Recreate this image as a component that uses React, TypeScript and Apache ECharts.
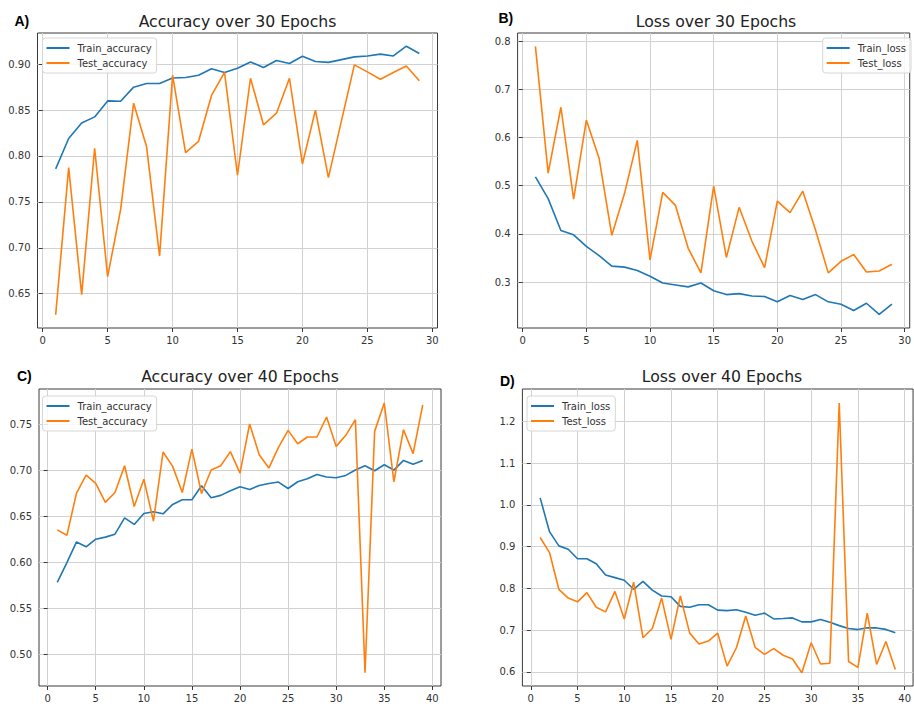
import React, { useEffect, useRef } from "react";
import * as echarts from "echarts";

const epochs30 = [1, 2, 3, 4, 5, 6, 7, 8, 9, 10, 11, 12, 13, 14, 15, 16, 17, 18, 19, 20, 21, 22, 23, 24, 25, 26, 27, 28, 29];
const epochs40 = [1, 2, 3, 4, 5, 6, 7, 8, 9, 10, 11, 12, 13, 14, 15, 16, 17, 18, 19, 20, 21, 22, 23, 24, 25, 26, 27, 28, 29, 30, 31, 32, 33, 34, 35, 36, 37, 38, 39];

const trainAcc30 = [0.786, 0.819, 0.836, 0.8426, 0.860, 0.8597, 0.875, 0.879, 0.879, 0.885, 0.8855, 0.888, 0.895, 0.891, 0.8956, 0.9025, 0.8964, 0.904, 0.9007, 0.9087, 0.903, 0.902, 0.905, 0.908, 0.909, 0.911, 0.909, 0.9196, 0.9116];
const testAcc30 = [0.627, 0.7874, 0.649, 0.8084, 0.6685, 0.7415, 0.8575, 0.810, 0.691, 0.888, 0.8037, 0.816, 0.866, 0.891, 0.779, 0.8847, 0.834, 0.8466, 0.8847, 0.7913, 0.850, 0.7765, 0.838, 0.8993, 0.8916, 0.8836, 0.891, 0.898, 0.882];

const trainLoss30 = [0.518, 0.473, 0.407, 0.398, 0.374, 0.355, 0.333, 0.331, 0.324, 0.312, 0.298, 0.294, 0.290, 0.298, 0.282, 0.274, 0.276, 0.271, 0.270, 0.259, 0.272, 0.264, 0.274, 0.259, 0.254, 0.241, 0.256, 0.233, 0.254];
const testLoss30 = [0.789, 0.526, 0.6626, 0.472, 0.636, 0.557, 0.397, 0.484, 0.594, 0.346, 0.486, 0.459, 0.370, 0.319, 0.499, 0.351, 0.455, 0.385, 0.330, 0.468, 0.444, 0.4885, 0.408, 0.319, 0.343, 0.357, 0.321, 0.323, 0.337];

const trainAcc40 = [0.578, 0.5996, 0.622, 0.6167, 0.625, 0.6272, 0.6304, 0.6482, 0.641, 0.6529, 0.6547, 0.6525, 0.6627, 0.6678, 0.6678, 0.683, 0.670, 0.6725, 0.6775, 0.682, 0.679, 0.6833, 0.6855, 0.687, 0.680, 0.6873, 0.6906, 0.6953, 0.6924, 0.6917, 0.6942, 0.700, 0.7047, 0.6993, 0.7058, 0.700, 0.7105, 0.7062, 0.7105];
const testAcc40 = [0.6351, 0.6293, 0.675, 0.6946, 0.6855, 0.6649, 0.6757, 0.7047, 0.6605, 0.690, 0.6446, 0.7196, 0.704, 0.6757, 0.7228, 0.6746, 0.700, 0.7047, 0.720, 0.6967, 0.750, 0.7167, 0.7022, 0.7246, 0.7431, 0.7286, 0.7359, 0.7359, 0.7576, 0.7257, 0.7377, 0.7547, 0.480, 0.742, 0.7728, 0.6873, 0.7438, 0.7178, 0.7707];

const trainLoss40 = [1.017, 0.936, 0.902, 0.894, 0.871, 0.871, 0.859, 0.832, 0.826, 0.8197, 0.798, 0.817, 0.796, 0.782, 0.780, 0.757, 0.755, 0.761, 0.761, 0.748, 0.747, 0.749, 0.743, 0.736, 0.741, 0.727, 0.728, 0.7295, 0.720, 0.720, 0.7255, 0.719, 0.711, 0.704, 0.7015, 0.706, 0.7055, 0.702, 0.694];
const testLoss40 = [0.922, 0.886, 0.798, 0.777, 0.768, 0.790, 0.755, 0.744, 0.793, 0.727, 0.815, 0.682, 0.704, 0.777, 0.678, 0.782, 0.693, 0.667, 0.674, 0.693, 0.614, 0.658, 0.734, 0.659, 0.642, 0.656, 0.640, 0.631, 0.598, 0.670, 0.619, 0.621, 1.244, 0.625, 0.611, 0.741, 0.618, 0.673, 0.606];

const xTicks30 = [0, 5, 10, 15, 20, 25, 30];
const xTicks40 = [0, 5, 10, 15, 20, 25, 30, 35, 40];
const yTicksA = [0.65, 0.7, 0.75, 0.8, 0.85, 0.9];
const yTicksB = [0.3, 0.4, 0.5, 0.6, 0.7, 0.8];
const yTicksC = [0.5, 0.55, 0.6, 0.65, 0.7, 0.75];
const yTicksD = [0.6, 0.7, 0.8, 0.9, 1.0, 1.1, 1.2];

const titles = ["Accuracy over 30 Epochs", "Loss over 30 Epochs", "Accuracy over 40 Epochs", "Loss over 40 Epochs"];
const panelLabels = ["A)", "B)", "C)", "D)"];
const accNames = ["Train_accuracy", "Test_accuracy"];
const lossNames = ["Train_loss", "Test_loss"];

const BLUE = "#1f77b4";
const ORANGE = "#ff7f0e";
const FONT = "DejaVu Sans";

const panels = [
  {
    grid: { left: 37.5, top: 33, width: 400, height: 295 },
    x: [-0.4, 30.4], y: [0.6126, 0.934], xt: xTicks30, yt: yTicksA, dec: 2,
    epochs: epochs30, train: trainAcc30, test: testAcc30, names: accNames,
    legend: { left: 42.5, top: 38 },
    title: { x: 237.5, y: 21 }, label: { x: 14.5, y: 21 },
  },
  {
    grid: { left: 517.6, top: 33, width: 396.5, height: 295 },
    x: [-0.4, 30.4], y: [0.2047, 0.8166], xt: xTicks30, yt: yTicksB, dec: 1,
    epochs: epochs30, train: trainLoss30, test: testLoss30, names: lossNames,
    legend: { right: 3, top: 38 },
    title: { x: 716, y: 21 }, label: { x: 498.5, y: 18 },
  },
  {
    grid: { left: 39, top: 389, width: 402, height: 297 },
    x: [-0.9, 40.9], y: [0.4656, 0.788], xt: xTicks40, yt: yTicksC, dec: 2,
    epochs: epochs40, train: trainAcc40, test: testAcc40, names: accNames,
    legend: { left: 42.5, top: 396 },
    title: { x: 240, y: 376 }, label: { x: 17, y: 376 },
  },
  {
    grid: { left: 522.4, top: 389, width: 401, height: 297 },
    x: [-0.9, 40.9], y: [0.5664, 1.2777], xt: xTicks40, yt: yTicksD, dec: 1,
    epochs: epochs40, train: trainLoss40, test: testLoss40, names: lossNames,
    legend: { left: 527, top: 396 },
    title: { x: 722, y: 376 }, label: { x: 500, y: 380.5 },
  },
];

function buildOption() {
  const grid: any[] = [];
  const xAxis: any[] = [];
  const yAxis: any[] = [];
  const series: any[] = [];
  const legend: any[] = [];
  const graphic: any[] = [];

  panels.forEach((p, i) => {
    grid.push({
      ...p.grid,
      show: true,
      borderColor: "#3a3a3a",
      borderWidth: 1,
      backgroundColor: "transparent",
      containLabel: false,
    });
    xAxis.push({
      type: "value",
      gridIndex: i,
      min: p.x[0],
      max: p.x[1],
      axisLine: { show: false },
      axisTick: { show: true, length: 4, inside: false, customValues: p.xt, lineStyle: { color: "#3a3a3a", width: 1 } },
      axisLabel: { customValues: p.xt, fontSize: 10, color: "#333", fontFamily: FONT, margin: 7, formatter: (v: number) => String(v) },
      splitLine: { show: true, lineStyle: { color: "#d2d2d2", width: 1 } },
    });
    yAxis.push({
      type: "value",
      gridIndex: i,
      min: p.y[0],
      max: p.y[1],
      axisLine: { show: false },
      axisTick: { show: true, length: 4, inside: false, customValues: p.yt, lineStyle: { color: "#3a3a3a", width: 1 } },
      axisLabel: { customValues: p.yt, fontSize: 10, color: "#333", fontFamily: FONT, margin: 7, formatter: (v: number) => v.toFixed(p.dec) },
      splitLine: { show: true, lineStyle: { color: "#d2d2d2", width: 1 } },
    });
    series.push({
      type: "line",
      name: p.names[0],
      xAxisIndex: i,
      yAxisIndex: i,
      data: p.epochs.map((e, j) => [e, p.train[j]]),
      symbol: "none",
      showSymbol: false,
      lineStyle: { color: BLUE, width: 1.6 },
      itemStyle: { color: BLUE },
      emphasis: { disabled: true },
    });
    series.push({
      type: "line",
      name: p.names[1],
      xAxisIndex: i,
      yAxisIndex: i,
      data: p.epochs.map((e, j) => [e, p.test[j]]),
      symbol: "none",
      showSymbol: false,
      lineStyle: { color: ORANGE, width: 1.6 },
      itemStyle: { color: ORANGE },
      emphasis: { disabled: true },
    });
    legend.push({
      ...p.legend,
      orient: "vertical",
      data: p.names,
      icon: "rect",
      itemWidth: 23,
      itemHeight: 2,
      itemGap: 5,
      padding: [5, 5, 5, 4],
      backgroundColor: "rgba(255,255,255,0.85)",
      borderColor: "#d6d6d6",
      borderWidth: 1,
      borderRadius: 3,
      selectedMode: false,
      textStyle: { fontSize: 10, color: "#333", fontFamily: FONT, padding: [0, 0, 0, 3] },
    });
    graphic.push({
      type: "text",
      x: p.title.x,
      y: p.title.y,
      style: { text: titles[i], font: `15.7px '${FONT}'`, fill: "#222", align: "center", verticalAlign: "middle" },
    });
    graphic.push({
      type: "text",
      x: p.label.x,
      y: p.label.y,
      style: { text: panelLabels[i], font: `bold 14px 'Liberation Sans'`, fill: "#000", align: "left", verticalAlign: "middle" },
    });
  });

  return {
    animation: false,
    backgroundColor: "#ffffff",
    grid,
    xAxis,
    yAxis,
    series,
    legend,
    graphic,
  };
}

export default function App() {
  const ref = useRef<HTMLDivElement>(null);
  useEffect(() => {
    if (!ref.current) return;
    const chart = echarts.init(ref.current, undefined, { renderer: "svg" });
    chart.setOption(buildOption());
    return () => chart.dispose();
  }, []);
  return (
    <div
      ref={ref}
      style={{ position: "absolute", left: 0, top: 0, width: 914, height: 704, background: "#fff" }}
    />
  );
}
